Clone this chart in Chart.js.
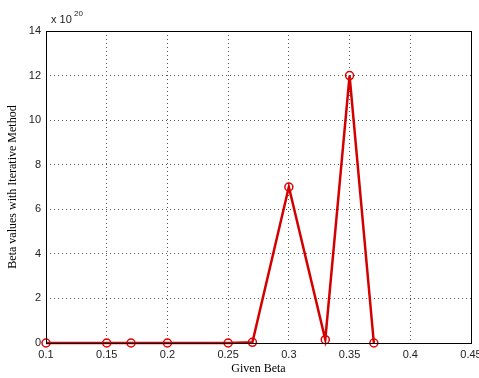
<!DOCTYPE html>
<html>
<head>
<meta charset="utf-8">
<script src="https://cdn.jsdelivr.net/npm/chart.js@4/dist/chart.umd.min.js"></script>
<style>
  html, body { margin: 0; padding: 0; background: #fff; }
  #wrap { width: 479px; height: 378px; }
</style>
</head>
<body>
<div id="wrap"><canvas id="c" width="479" height="378"></canvas></div>
<script>
// Given beta vs beta from iterative method (y values in units of 1e20)
const givenBeta = [0.1, 0.15, 0.17, 0.2, 0.25, 0.27, 0.3, 0.33, 0.35, 0.37];
const iterBeta = [0, 0, 0, 0, 0, 0.03, 7, 0.15, 12, 0];
const xTicks = [0.1, 0.15, 0.2, 0.25, 0.3, 0.35, 0.4, 0.45];
const yTicks = [0, 2, 4, 6, 8, 10, 12, 14];

const tickFont = { family: 'Arial, "Liberation Sans", sans-serif', size: 11 };
const titleFont = '12px "Liberation Serif", "Times New Roman", serif';

// box frame, exponent label and axis titles drawn MATLAB style
const decor = {
  id: 'decor',
  afterDraw(chart) {
    const { ctx, chartArea: a } = chart;
    ctx.save();
    ctx.strokeStyle = '#000';
    ctx.lineWidth = 1;
    ctx.strokeRect(a.left + 0.5, a.top + 0.5, a.right - a.left, a.bottom - a.top);

    ctx.fillStyle = '#222';
    ctx.font = '11px Arial, "Liberation Sans", sans-serif';
    ctx.textBaseline = 'alphabetic';
    ctx.textAlign = 'left';
    ctx.fillText('x 10', a.left + 5, a.top - 8);
    ctx.font = '8px Arial, "Liberation Sans", sans-serif';
    ctx.fillText('20', a.left + 28, a.top - 15);

    ctx.fillStyle = '#000';
    ctx.font = titleFont;
    ctx.textAlign = 'center';
    ctx.textBaseline = 'middle';
    ctx.fillText('Given Beta', (a.left + a.right) / 2, 369);
    ctx.translate(13, (a.top + a.bottom) / 2);
    ctx.rotate(-Math.PI / 2);
    ctx.fillText('Beta values with Iterative Method', 0, 0);
    ctx.restore();
  }
};

new Chart(document.getElementById('c'), {
  type: 'line',
  data: {
    datasets: [{
      data: givenBeta.map((x, i) => ({ x, y: iterBeta[i] })),
      borderColor: '#d40000',
      borderWidth: 2.5,
      tension: 0,
      pointStyle: 'circle',
      pointRadius: 4,
      pointBorderWidth: 1.5,
      pointBorderColor: '#e00000',
      pointBackgroundColor: 'rgba(0,0,0,0)',
      clip: false
    }]
  },
  options: {
    responsive: false,
    animation: false,
    layout: { padding: { left: 0, top: 31, right: 8, bottom: 0 } },
    plugins: { legend: { display: false }, tooltip: { enabled: false } },
    scales: {
      x: {
        type: 'linear',
        min: 0.1,
        max: 0.45,
        afterBuildTicks: s => { s.ticks = xTicks.map(v => ({ value: v })); },
        afterFit: s => { s.height = 35; s.paddingLeft = 0; s.paddingRight = 0; },
        grid: { color: '#555', lineWidth: 1, drawTicks: false },
        border: { display: false, dash: [1, 3] },
        ticks: { font: tickFont, color: '#222', padding: 5, maxRotation: 0,
                 callback: v => String(+v.toFixed(2)) }
      },
      y: {
        min: 0,
        max: 14,
        afterBuildTicks: s => { s.ticks = yTicks.map(v => ({ value: v })); },
        afterFit: s => { s.width = 46; s.paddingTop = 0; s.paddingBottom = 0; },
        grid: { color: '#555', lineWidth: 1, drawTicks: false },
        border: { display: false, dash: [1, 3] },
        ticks: { font: tickFont, color: '#222', padding: 5 }
      }
    }
  },
  plugins: [decor]
});
</script>
</body>
</html>
